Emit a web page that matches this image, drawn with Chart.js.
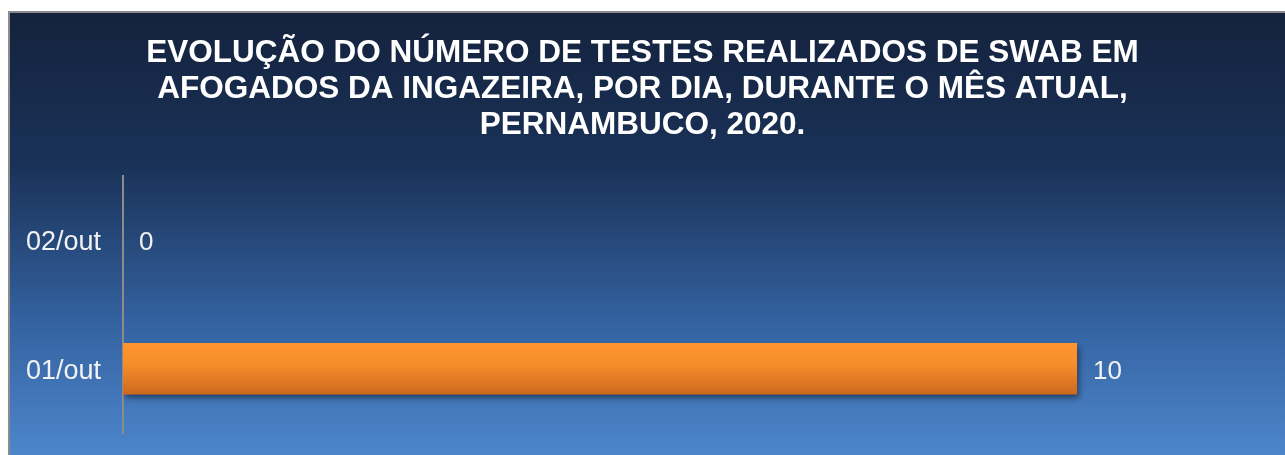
<!DOCTYPE html>
<html>
<head>
<meta charset="utf-8">
<script src="https://cdn.jsdelivr.net/npm/chart.js@4"></script>
<style>
  html, body { margin: 0; padding: 0; background: #fff; }
  #wrap { width: 1285px; height: 455px; position: relative; }
</style>
</head>
<body>
<div id="wrap"><canvas id="chart"></canvas></div>
<script>
const days = ['01/out', '02/out'];
const swabTests = [10, 0];
const titleLines = [
  'EVOLUÇÃO DO NÚMERO DE TESTES REALIZADOS DE SWAB EM',
  'AFOGADOS DA INGAZEIRA, POR DIA, DURANTE O MÊS ATUAL,',
  'PERNAMBUCO, 2020.'
];

// Background panel with gradient + gray border
const panelBg = {
  id: 'panelBg',
  beforeDraw(chart) {
    const { ctx, width, height } = chart;
    ctx.save();
    ctx.fillStyle = '#ffffff';
    ctx.fillRect(0, 0, width, height);
    const g = ctx.createLinearGradient(0, 11, 0, height);
    g.addColorStop(0, '#14223d');
    g.addColorStop(0.35, '#1a3258');
    g.addColorStop(0.7, '#3462a0');
    g.addColorStop(1, '#4d86cc');
    ctx.fillStyle = g;
    ctx.fillRect(8, 11, width - 8, height - 11);
    ctx.strokeStyle = '#8c8c8c';
    ctx.lineWidth = 2;
    ctx.beginPath();
    ctx.moveTo(9, height);
    ctx.lineTo(9, 12);
    ctx.lineTo(width, 12);
    ctx.stroke();
    ctx.restore();
  }
};

// Drop shadow under the bars
const barShadow = {
  id: 'barShadow',
  beforeDatasetDraw(chart) {
    const ctx = chart.ctx;
    ctx.save();
    ctx.shadowColor = 'rgba(0,0,0,0.45)';
    ctx.shadowBlur = 6;
    ctx.shadowOffsetX = 2;
    ctx.shadowOffsetY = 4;
  },
  afterDatasetDraw(chart) {
    chart.ctx.restore();
  }
};

// Value labels at the end of each bar
const valueLabels = {
  id: 'valueLabels',
  afterDatasetsDraw(chart) {
    const { ctx } = chart;
    const meta = chart.getDatasetMeta(0);
    ctx.save();
    ctx.fillStyle = '#f2f2f2';
    ctx.font = '26px "Liberation Sans", Arial, sans-serif';
    ctx.textBaseline = 'middle';
    ctx.textAlign = 'left';
    meta.data.forEach((bar, i) => {
      ctx.fillText(String(swabTests[i]), bar.x + 16, bar.y + 3);
    });
    ctx.restore();
  }
};

new Chart(document.getElementById('chart'), {
  type: 'bar',
  data: {
    labels: days,
    datasets: [{
      data: swabTests,
      backgroundColor: (c) => {
        const chart = c.chart;
        const ys = chart.scales && chart.scales.y;
        if (!chart.chartArea || !ys || c.dataIndex === undefined) return '#f58a2a';
        const cy = ys.getPixelForValue(c.dataIndex);
        const half = 26;
        const g = chart.ctx.createLinearGradient(0, cy - half, 0, cy + half);
        g.addColorStop(0, '#ff952e');
        g.addColorStop(0.45, '#f48c2b');
        g.addColorStop(1, '#cd681c');
        return g;
      },
      borderWidth: 0,
      barPercentage: 0.4,
      categoryPercentage: 1
    }]
  },
  options: {
    responsive: true,
    maintainAspectRatio: false,
    animation: false,
    indexAxis: 'y',
    layout: { padding: { left: 0, right: 0, top: 0, bottom: 22 } },
    plugins: {
      legend: { display: false },
      tooltip: { enabled: false },
      title: {
        display: true,
        text: titleLines,
        color: '#ffffff',
        font: { family: '"Liberation Sans", Arial, sans-serif', size: 31.5, weight: 'bold', lineHeight: 1.15 },
        padding: { top: 35, bottom: 32 }
      }
    },
    scales: {
      x: {
        display: false,
        min: 0,
        max: 12.18
      },
      y: {
        reverse: true,
        grid: { display: false, drawTicks: true, tickLength: 22, tickColor: 'rgba(0,0,0,0)' },
        border: { display: true, color: '#8c8c8c', width: 2 },
        ticks: {
          color: '#f2f2f2',
          padding: 0,
          labelOffset: 3,
          font: { family: '"Liberation Sans", Arial, sans-serif', size: 27 }
        },
        afterFit(scale) { scale.width = 123; }
      }
    }
  },
  plugins: [panelBg, barShadow, valueLabels]
});
</script>
</body>
</html>
